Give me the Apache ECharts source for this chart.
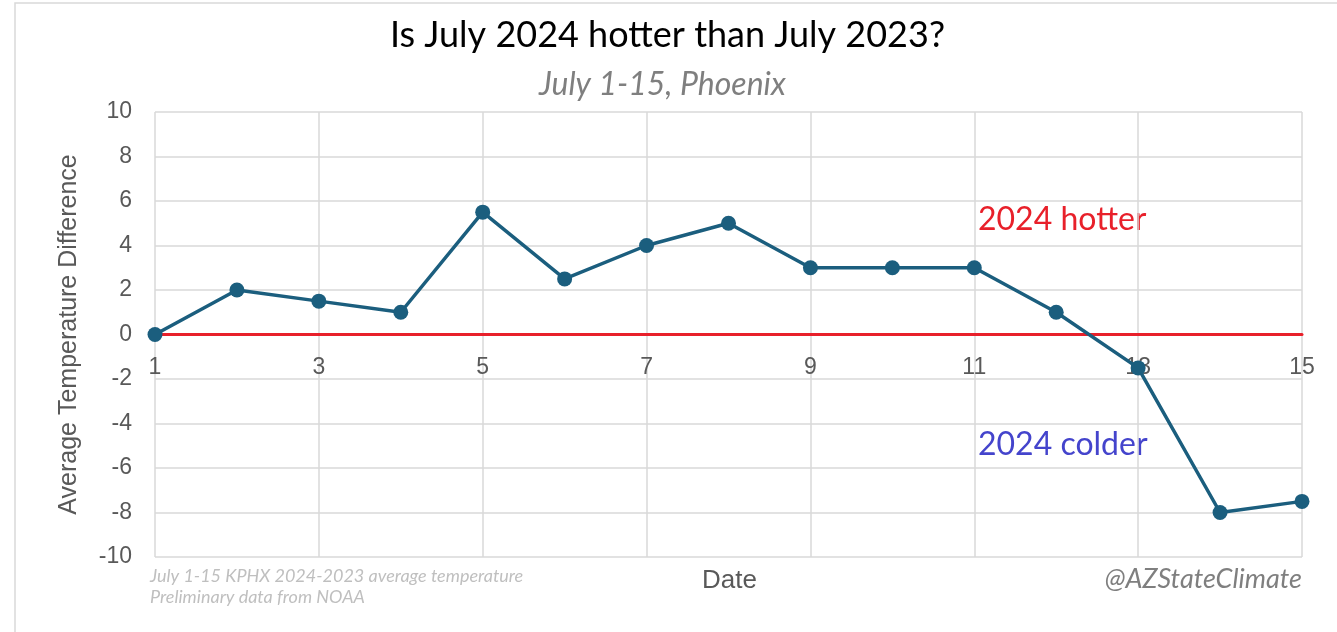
<!DOCTYPE html>
<html lang="en">
<head>
	<meta charset="utf-8">
	<title>Is July 2024 hotter than July 2023?</title>
	<script src="https://cdn.jsdelivr.net/npm/echarts@6/dist/echarts.min.js"></script>
	<style type="text/css">
		html, body {
			margin: 0;
			padding: 0;
			background: #fff;
		}
		#chart {
			width: 1337px;
			height: 632px;
		}
	</style>
</head>
<body>
	<div id="chart"></div>
	<script type="text/javascript">
		// July day of month and 2024 minus 2023 average temperature (F)
		var days = [1, 2, 3, 4, 5, 6, 7, 8, 9, 10, 11, 12, 13, 14, 15];
		var tempDiff = [0, 2, 1.5, 1, 5.5, 2.5, 4, 5, 3, 3, 3, 1, -1.5, -8, -7.5];
		var yTicks = { min: -10, max: 10, step: 2 };
		var xTicks = { min: 1, max: 15, step: 2 };

		var seriesData = days.map(function(d, i) { return [d, tempDiff[i]]; });

		var chart = echarts.init(document.getElementById('chart'));
		var option = {
			animation: false,
			title: [{
				text: 'Is July 2024 hotter than July 2023?',
				left: 385,
				top: 12,
				textStyle: {
					fontFamily: 'Lato',
					fontSize: 36,
					fontWeight: 'normal',
					color: '#000'
				}
			}, {
				text: 'July 1-15, Phoenix',
				left: 534,
				top: 64,
				textStyle: {
					fontFamily: 'Lato',
					fontSize: 32,
					fontStyle: 'italic',
					fontWeight: 'normal',
					color: '#7f7f7f'
				}
			}],
			grid: {
				left: 155,
				right: 35,
				top: 112,
				bottom: 75,
				outerBoundsMode: 'none'
			},
			xAxis: {
				type: 'value',
				min: xTicks.min,
				max: xTicks.max,
				interval: xTicks.step,
				// the axis sits on the zero line (grid bottom is y = -10)
				offset: -222.5,
				axisLine: {
					onZero: false,
					lineStyle: { color: '#e8202a', width: 3 }
				},
				axisTick: { show: false },
				axisLabel: {
					margin: 22,
					fontFamily: 'Liberation Sans',
					fontSize: 23,
					color: '#595959'
				},
				splitLine: {
					show: true,
					lineStyle: { color: '#d9d9d9', width: 1.5 }
				}
			},
			yAxis: {
				type: 'value',
				min: yTicks.min,
				max: yTicks.max,
				interval: yTicks.step,
				name: 'Average Temperature Difference',
				nameLocation: 'middle',
				nameGap: 73,
				nameTextStyle: {
					fontFamily: 'Liberation Sans',
					fontSize: 25,
					color: '#595959'
				},
				axisLine: { show: false },
				axisTick: { show: false },
				axisLabel: {
					margin: 23,
					fontFamily: 'Liberation Sans',
					fontSize: 23,
					color: '#595959'
				},
				splitLine: {
					lineStyle: { color: '#d9d9d9', width: 1.5 }
				}
			},
			graphic: [{
				type: 'rect',
				shape: { x: 15, y: 3, width: 1400, height: 700 },
				style: { fill: 'none', stroke: '#d9d9d9', lineWidth: 1.5 },
				silent: true
			}, {
				type: 'text',
				left: 978,
				top: 204,
				style: {
					text: '2024 hotter',
					fontFamily: 'Lato',
					fontSize: 32,
					fill: '#e8202a'
				}
			}, {
				type: 'text',
				left: 978,
				top: 429,
				style: {
					text: '2024 colder',
					fontFamily: 'Lato',
					fontSize: 32,
					fill: '#4444cc'
				}
			}, {
				type: 'text',
				left: 150,
				top: 566,
				style: {
					text: 'July 1-15 KPHX 2024-2023 average temperature\nPreliminary data from NOAA',
					fontFamily: 'Lato',
					fontStyle: 'italic',
					fontSize: 18,
					lineHeight: 21,
					fill: '#bfbfbf'
				}
			}, {
				type: 'text',
				left: 702,
				top: 568,
				style: {
					text: 'Date',
					fontFamily: 'Liberation Sans',
					fontSize: 26,
					fill: '#595959'
				}
			}, {
				type: 'text',
				right: 35,
				top: 566,
				style: {
					text: '@AZStateClimate',
					fontFamily: 'Lato',
					fontStyle: 'italic',
					fontSize: 27,
					fill: '#7f7f7f'
				}
			}],
			series: [{
				name: 'Difference',
				type: 'line',
				data: seriesData,
				symbol: 'circle',
				symbolSize: 15,
				lineStyle: { color: '#1b5e7e', width: 3.5 },
				itemStyle: { color: '#1b5e7e' },
				z: 5
			}]
		};
		chart.setOption(option);
	</script>
</body>
</html>
